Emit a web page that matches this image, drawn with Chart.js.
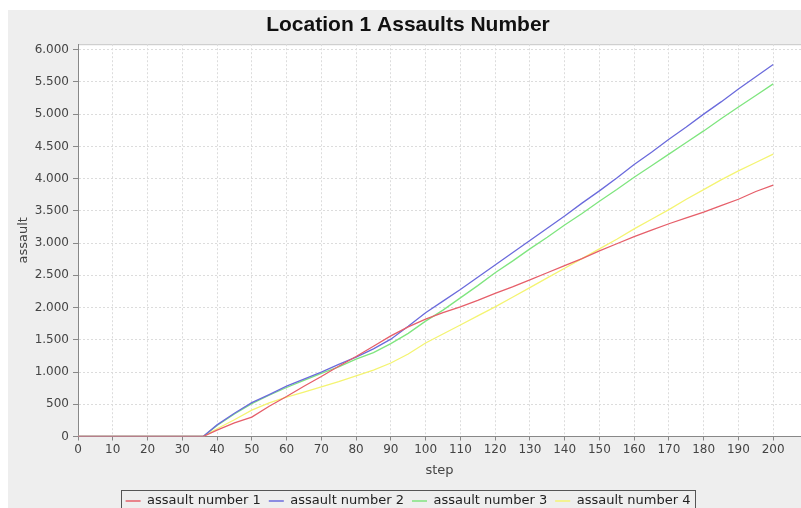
<!DOCTYPE html>
<html>
<head>
<meta charset="utf-8">
<script src="https://cdn.jsdelivr.net/npm/chart.js@4"></script>
<style>
  html, body { margin: 0; padding: 0; background: #ffffff; overflow: hidden; }
  #wrap { position: absolute; left: 8px; top: 10px; width: 793px; height: 510px; background: #eeeeee; }
</style>
</head>
<body>
<div id="wrap"><canvas id="chart" width="793" height="510"></canvas></div>
<script>
const steps = [0, 36, 40, 45, 50, 55, 60, 65, 70, 75, 80, 85, 90, 95, 100, 105, 110, 115, 120, 125,
  130, 135, 140, 145, 150, 155, 160, 165, 170, 175, 180, 185, 190, 195, 200];

const assault1 = [0, 0, 100, 210, 300, 470, 620, 780, 930, 1090, 1240, 1400, 1560, 1700, 1820, 1920,
  2010, 2110, 2220, 2320, 2430, 2540, 2650, 2760, 2880, 2990, 3100, 3200, 3300, 3390, 3480, 3580,
  3680, 3800, 3900];
const assault2 = [0, 0, 180, 360, 525, 650, 780, 890, 1000, 1120, 1230, 1360, 1510, 1710, 1920, 2100,
  2280, 2470, 2660, 2850, 3040, 3230, 3420, 3620, 3810, 4010, 4220, 4410, 4610, 4800, 5000, 5190,
  5390, 5580, 5770];
const assault3 = [0, 0, 170, 350, 510, 640, 760, 870, 980, 1080, 1200, 1300, 1440, 1600, 1790, 1960,
  2150, 2340, 2540, 2720, 2910, 3090, 3280, 3460, 3650, 3830, 4020, 4200, 4380, 4560, 4740, 4930,
  5110, 5290, 5470];
const assault4 = [0, 0, 120, 260, 410, 520, 610, 690, 770, 850, 940, 1030, 1140, 1280, 1450, 1590,
  1730, 1870, 2010, 2160, 2310, 2460, 2610, 2760, 2910, 3060, 3220, 3370, 3520, 3680, 3830, 3980,
  4120, 4250, 4380];

// tick labels on the axes
const xTicks = [0, 10, 20, 30, 40, 50, 60, 70, 80, 90, 100, 110, 120, 130, 140, 150, 160, 170, 180, 190, 200];
const yTicks = [0, 500, 1000, 1500, 2000, 2500, 3000, 3500, 4000, 4500, 5000, 5500, 6000];

const seriesNames = ["assault number 1", "assault number 2", "assault number 3", "assault number 4"];
const seriesColors = ["#e65f6a", "#6b6bdc", "#7fe57f", "#f4f472"];

function toPoints(values) {
  return values.map((v, i) => ({ x: steps[i], y: v }));
}

// dotted thousands separator, like the original
function fmt(v) {
  return String(Math.round(v)).replace(/\B(?=(\d{3})+(?!\d))/g, ".");
}

// white plot background + legend frame
const framePlugin = {
  id: "frame",
  beforeDraw(chart) {
    const { ctx, chartArea } = chart;
    ctx.save();
    ctx.fillStyle = "#ffffff";
    ctx.fillRect(chartArea.left, chartArea.top, chartArea.right - chartArea.left, chartArea.bottom - chartArea.top);
    ctx.strokeStyle = "#c4c4c4";
    ctx.lineWidth = 1;
    ctx.beginPath();
    ctx.moveTo(chartArea.left, chartArea.top + 0.5);
    ctx.lineTo(chartArea.right, chartArea.top + 0.5);
    ctx.stroke();
    ctx.restore();
  },
  afterDraw(chart) {
    const boxes = chart.legend.legendHitBoxes;
    if (!boxes || !boxes.length) return;
    const first = boxes[0];
    const last = boxes[boxes.length - 1];
    const ctx = chart.ctx;
    ctx.save();
    ctx.strokeStyle = "#555555";
    ctx.lineWidth = 1;
    const left = Math.round(first.left - 5) + 0.5;
    const right = Math.round(last.left + last.width + 5) + 0.5;
    const top = Math.round(first.top - 5) + 0.5;
    ctx.strokeRect(left, top, right - left, 40);
    ctx.restore();
  }
};

const datasets = [assault1, assault2, assault3, assault4].map((vals, i) => ({
  label: seriesNames[i],
  data: toPoints(vals),
  borderColor: seriesColors[i],
  backgroundColor: seriesColors[i],
  borderWidth: 1.3,
  pointRadius: 0,
  tension: 0,
  fill: false,
}));

const ctx = document.getElementById("chart").getContext("2d");
new Chart(ctx, {
  type: "line",
  data: { datasets: datasets },
  options: {
    responsive: false,
    animation: false,
    devicePixelRatio: 1,
    layout: { padding: { left: 7, right: 0, top: 0, bottom: 2.5 } },
    scales: {
      x: {
        type: "linear",
        min: 0,
        max: 208,
        afterFit: (scale) => { scale.height = 50; },
        afterBuildTicks: (scale) => { scale.ticks = xTicks.map((v) => ({ value: v })); },
        ticks: {
          autoSkip: false,
          maxRotation: 0,
          padding: 2,
          color: "#444444",
          font: { family: "DejaVu Sans", size: 12 },
        },
        grid: {
          color: "#dcdcdc",
          tickColor: "#888888",
          tickLength: 4,
          tickBorderDash: [],
        },
        border: { color: "#888888", dash: [2, 2] },
        title: {
          display: true,
          text: "step",
          color: "#444444",
          font: { family: "DejaVu Sans", size: 13 },
          padding: { top: 0, bottom: 8 },
        },
      },
      y: {
        min: 0,
        max: 6085,
        afterFit: (scale) => { scale.width = 63; },
        afterBuildTicks: (scale) => { scale.ticks = yTicks.map((v) => ({ value: v })); },
        ticks: {
          autoSkip: false,
          padding: 4,
          color: "#444444",
          font: { family: "DejaVu Sans", size: 12 },
          callback: (v) => fmt(v),
        },
        grid: {
          color: "#dcdcdc",
          tickColor: "#888888",
          tickLength: 5,
          tickBorderDash: [],
        },
        border: { color: "#888888", dash: [2, 2] },
        title: {
          display: true,
          text: "assault",
          color: "#444444",
          font: { family: "DejaVu Sans", size: 13 },
          padding: { top: 1, bottom: 6 },
        },
      },
    },
    plugins: {
      title: {
        display: true,
        text: "Location 1 Assaults Number",
        color: "#111111",
        font: { family: "Liberation Sans", size: 21, weight: "bold" },
        padding: { top: 3, bottom: 6 },
      },
      legend: {
        position: "bottom",
        labels: {
          usePointStyle: true,
          pointStyle: "line",
          pointStyleWidth: 15,
          boxHeight: 1,
          padding: 8,
          color: "#222222",
          font: { family: "DejaVu Sans", size: 13 },
        },
      },
      tooltip: { enabled: false },
    },
  },
  plugins: [framePlugin],
});
</script>
</body>
</html>
